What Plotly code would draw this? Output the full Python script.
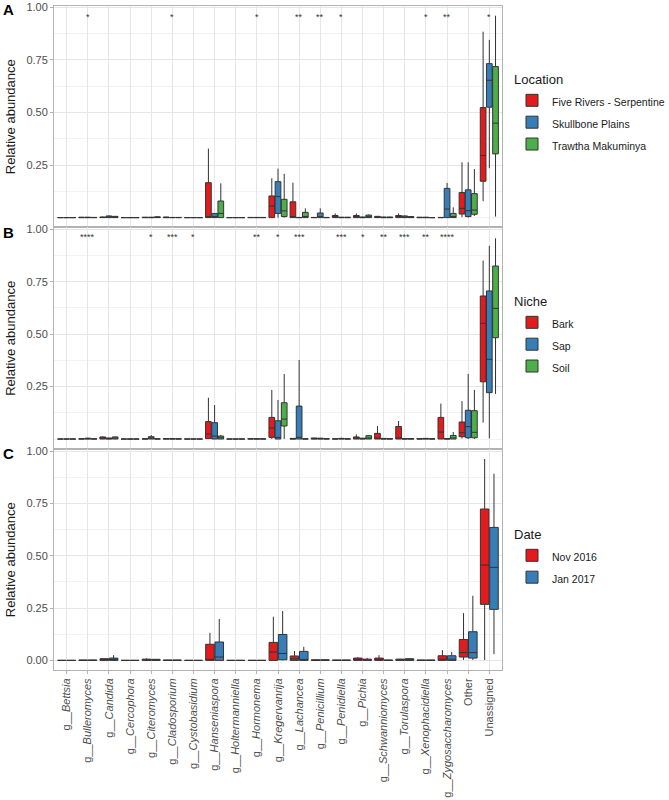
import plotly.graph_objects as go

categories = ["g__Bettsia", "g__Bulleromyces", "g__Candida", "g__Cercophora", "g__Citeromyces",
              "g__Cladosporium", "g__Cystobasidium", "g__Hanseniaspora", "g__Holtermanniella",
              "g__Hormonema", "g__Kregervanrija", "g__Lachancea", "g__Penicillium", "g__Penidiella",
              "g__Pichia", "g__Schwanniomyces", "g__Torulaspora", "g__Xenophacidiella",
              "g__Zygosaccharomyces", "Other", "Unassigned"]
tick_labels = ["g__<i>Bettsia</i>", "g__<i>Bulleromyces</i>", "g__<i>Candida</i>", "g__<i>Cercophora</i>",
               "g__<i>Citeromyces</i>", "g__<i>Cladosporium</i>", "g__<i>Cystobasidium</i>",
               "g__<i>Hanseniaspora</i>", "g__<i>Holtermanniella</i>", "g__<i>Hormonema</i>",
               "g__<i>Kregervanrija</i>", "g__<i>Lachancea</i>", "g__<i>Penicillium</i>",
               "g__<i>Penidiella</i>", "g__<i>Pichia</i>", "g__<i>Schwanniomyces</i>",
               "g__<i>Torulaspora</i>", "g__<i>Xenophacidiella</i>", "g__<i>Zygosaccharomyces</i>",
               "Other", "Unassigned"]

# ---- Panel A: Location ----
A_five_q1  = [0,0,0,0,0,0,0,0,0,0,0,0,0,0,0,0,0,0,0,0.017,0.173]
A_five_med = [0,0,0.001,0,0,0,0,0.005,0,0,0.055,0.003,0,0.002,0.002,0.001,0.002,0,0,0.044,0.295]
A_five_q3  = [0,0.002,0.003,0,0.002,0.003,0,0.166,0,0.001,0.103,0.075,0.001,0.01,0.01,0.006,0.01,0.002,0.001,0.119,0.523]
A_five_lo  = [0,0,0,0,0,0,0,0,0,0,0,0,0,0,0,0,0,0,0,0.002,0.078]
A_five_hi  = [0,0.003,0.005,0,0.003,0.004,0,0.328,0,0.002,0.187,0.166,0.002,0.02,0.02,0.008,0.02,0.003,0.001,0.263,0.884]

A_skull_q1  = [0,0,0,0,0,0,0,0,0,0,0.02,0,0,0,0,0,0,0,0,0.005,0.525]
A_skull_med = [0,0,0.003,0,0,0,0,0.005,0,0,0.1,0,0.003,0,0,0,0.002,0,0.041,0.033,0.653]
A_skull_q3  = [0,0.002,0.008,0,0.002,0.001,0,0.02,0,0.001,0.171,0.001,0.022,0.002,0.003,0.003,0.008,0.002,0.139,0.132,0.732]
A_skull_lo  = [0,0,0,0,0,0,0,0,0,0,0,0,0,0,0,0,0,0,0,0,0.235]
A_skull_hi  = [0,0.003,0.01,0,0.002,0.001,0,0.022,0,0.001,0.233,0.001,0.044,0.003,0.005,0.004,0.01,0.002,0.165,0.263,0.845]

A_traw_q1  = [0,0,0,0,0,0,0,0,0,0,0.005,0,0,0,0,0,0,0,0,0.016,0.303]
A_traw_med = [0,0,0.002,0,0.001,0,0,0.02,0,0,0.032,0.005,0,0,0.004,0,0.001,0,0.005,0.036,0.449]
A_traw_q3  = [0,0.001,0.006,0,0.004,0.001,0,0.079,0,0.001,0.087,0.025,0.001,0.002,0.012,0.003,0.005,0,0.02,0.114,0.718]
A_traw_lo  = [0,0,0,0,0,0,0,0,0,0,0,0,0,0,0,0,0,0,0,0.008,0.005]
A_traw_hi  = [0,0.002,0.008,0,0.006,0.001,0,0.163,0,0.001,0.208,0.044,0.001,0.003,0.015,0.004,0.006,0,0.049,0.231,0.960]

# ---- Panel B: Niche ----
B_bark_q1  = [0,0,0,0,0,0,0,0.002,0,0,0.008,0,0,0,0,0,0,0,0,0.011,0.273]
B_bark_med = [0,0,0.003,0,0,0,0,0.024,0,0,0.052,0,0.001,0,0.002,0.002,0.003,0,0.033,0.03,0.552]
B_bark_q3  = [0,0.001,0.01,0,0.001,0.002,0,0.083,0,0.002,0.103,0.003,0.005,0.001,0.01,0.027,0.06,0.002,0.103,0.081,0.682]
B_bark_lo  = [0,0,0,0,0,0,0,0,0,0,0,0,0,0,0,0,0,0,0,0.002,0.078]
B_bark_hi  = [0,0.002,0.012,0,0.002,0.003,0,0.197,0,0.003,0.234,0.004,0.006,0.002,0.022,0.062,0.086,0.003,0.169,0.181,0.851]

B_sap_q1  = [0,0,0,0,0,0,0,0,0,0,0,0,0,0,0,0,0,0,0,0.006,0.221]
B_sap_med = [0,0.001,0.001,0,0.003,0,0,0.014,0,0,0.008,0.008,0.001,0.001,0.001,0,0,0.001,0,0.059,0.38]
B_sap_q3  = [0,0.004,0.005,0,0.011,0.002,0,0.078,0,0.001,0.087,0.157,0.004,0.003,0.004,0.003,0.002,0.003,0.002,0.137,0.706]
B_sap_lo  = [0,0,0,0,0,0,0,0,0,0,0,0,0,0,0,0,0,0,0,0,0.003]
B_sap_hi  = [0,0.006,0.006,0,0.019,0.003,0,0.162,0,0.002,0.186,0.377,0.005,0.006,0.005,0.004,0.003,0.004,0.002,0.31,0.921]

B_soil_q1  = [0,0,0,0,0,0,0,0,0,0,0.062,0,0,0,0,0,0,0,0,0.006,0.483]
B_soil_med = [0,0,0.004,0,0,0,0,0.006,0,0,0.095,0,0,0,0.005,0,0,0,0.005,0.032,0.623]
B_soil_q3  = [0,0.001,0.01,0,0.001,0.001,0,0.014,0,0.001,0.173,0.001,0.002,0.001,0.016,0.002,0.002,0.001,0.017,0.135,0.825]
B_soil_lo  = [0,0,0,0,0,0,0,0,0,0,0,0,0,0,0,0,0,0,0,0,0.215]
B_soil_hi  = [0,0.001,0.012,0,0.001,0.001,0,0.02,0,0.001,0.31,0.002,0.002,0.001,0.018,0.003,0.002,0.001,0.033,0.234,0.957]

# ---- Panel C: Date ----
C_nov_q1  = [0,0,0,0,0,0,0,0,0,0,0,0,0,0,0,0,0,0,0,0.016,0.268]
C_nov_med = [0,0,0.002,0,0.002,0,0,0.002,0,0,0.04,0.008,0,0,0.004,0.002,0.002,0,0.006,0.037,0.456]
C_nov_q3  = [0,0.002,0.008,0,0.006,0.002,0,0.077,0,0,0.086,0.021,0.003,0.002,0.011,0.011,0.006,0.002,0.022,0.1,0.724]
C_nov_lo  = [0,0,0,0,0,0,0,0,0,0,0,0,0,0,0,0,0,0,0,0.002,0.002]
C_nov_hi  = [0,0.002,0.009,0,0.01,0.002,0,0.132,0,0,0.209,0.045,0.004,0.002,0.016,0.025,0.008,0.002,0.049,0.226,0.963]

C_jan_q1  = [0,0,0,0,0,0,0,0,0,0,0.003,0,0,0,0,0,0,0,0,0.011,0.244]
C_jan_med = [0,0,0.004,0,0.001,0,0,0.016,0,0,0.033,0.003,0.001,0,0.002,0,0.003,0,0.006,0.037,0.445]
C_jan_q3  = [0,0.002,0.011,0,0.005,0.002,0,0.088,0,0,0.124,0.043,0.003,0.002,0.006,0.002,0.008,0.002,0.022,0.137,0.636]
C_jan_lo  = [0,0,0,0,0,0,0,0,0,0,0,0,0,0,0,0,0,0,0,0.002,0.03]
C_jan_hi  = [0,0.002,0.025,0,0.007,0.002,0,0.198,0,0,0.236,0.065,0.004,0.002,0.012,0.003,0.01,0.002,0.04,0.309,0.893]

sig_A = ["", "*", "", "", "", "*", "", "", "", "*", "", "**", "**", "*", "", "", "", "*", "**", "", "*"]
sig_B = ["", "****", "", "", "*", "***", "*", "", "", "**", "*", "***", "", "***", "*", "**", "***", "**", "****", "", ""]

RED, BLUE, GREEN = "#E41A1C", "#377EB8", "#4DAF4A"
FONT = "Liberation Sans, Arial, sans-serif"

fig = go.Figure()

panels = [
    ("x", "y", "legend", [("Five Rivers - Serpentine", RED, A_five_q1, A_five_med, A_five_q3, A_five_lo, A_five_hi),
                          ("Skullbone Plains", BLUE, A_skull_q1, A_skull_med, A_skull_q3, A_skull_lo, A_skull_hi),
                          ("Trawtha Makuminya", GREEN, A_traw_q1, A_traw_med, A_traw_q3, A_traw_lo, A_traw_hi)]),
    ("x2", "y2", "legend2", [("Bark", RED, B_bark_q1, B_bark_med, B_bark_q3, B_bark_lo, B_bark_hi),
                             ("Sap", BLUE, B_sap_q1, B_sap_med, B_sap_q3, B_sap_lo, B_sap_hi),
                             ("Soil", GREEN, B_soil_q1, B_soil_med, B_soil_q3, B_soil_lo, B_soil_hi)]),
    ("x3", "y3", "legend3", [("Nov 2016", RED, C_nov_q1, C_nov_med, C_nov_q3, C_nov_lo, C_nov_hi),
                             ("Jan 2017", BLUE, C_jan_q1, C_jan_med, C_jan_q3, C_jan_lo, C_jan_hi)]),
]

for xa, ya, lg, groups in panels:
    for gi, (name, col, q1, med, q3, lo, hi) in enumerate(groups):
        fig.add_trace(go.Box(
            x=categories, q1=q1, median=med, q3=q3, lowerfence=lo, upperfence=hi,
            name='<span style="font-size:10.5px">%s</span>' % name,
            fillcolor=col, line=dict(color="#333333", width=1),
            whiskerwidth=0, boxpoints=False, xaxis=xa, yaxis=ya, legend=lg,
            alignmentgroup="panel_" + xa, offsetgroup="g%d" % gi,
            hoverinfo="skip",
        ))

W, H = 669, 800
x0, x1 = 54 / W, 502 / W
doms = [(1 - 227.3 / H, 1 - 6 / H), (1 - 449.3 / H, 1 - 227.3 / H), (1 - 670 / H, 1 - 449.3 / H)]
yranges = [[-0.046, 1.006], [-0.049, 1.0095], [-0.046, 1.0096]]

grid_major = "#E6E6E6"
grid_minor = "#F2F2F2"
border = "#B3B3B3"

layout = dict(
    width=W, height=H, margin=dict(l=0, r=0, t=0, b=0, autoexpand=False),
    paper_bgcolor="white", plot_bgcolor="white",
    boxmode="group", boxgap=0.12, boxgroupgap=0.08,
    font=dict(family=FONT, size=11, color="#1A1A1A"),
)
for i in range(3):
    sfx = "" if i == 0 else str(i + 1)
    show_x = (i == 2)
    layout["xaxis" + sfx] = dict(
        domain=[x0, x1], anchor="y" + sfx, type="category",
        categoryorder="array", categoryarray=categories,
        range=[-0.6, 20.6], showgrid=True, gridcolor=grid_major, gridwidth=1,
        showline=True, mirror=True, linecolor=border, linewidth=1,
        tickmode="array", tickvals=categories, ticktext=tick_labels,
        showticklabels=show_x, ticks="outside" if show_x else "", ticklen=3, tickcolor=border,
        tickangle=-90, tickfont=dict(family=FONT, size=11, color="#4D4D4D"),
        zeroline=False, automargin=False,
    )
    if i < 2:
        yt, ytt = [0.25, 0.5, 0.75, 1.0], ["0.25", "0.50", "0.75", "1.00"]
        minor_vals = [0, 0.125, 0.375, 0.625, 0.875]
    else:
        yt, ytt = [0, 0.25, 0.5, 0.75, 1.0], ["0.00", "0.25", "0.50", "0.75", "1.00"]
        minor_vals = [0.125, 0.375, 0.625, 0.875]
    layout["yaxis" + sfx] = dict(
        domain=list(doms[i]), anchor="x" + sfx, range=yranges[i],
        tickmode="array", tickvals=yt, ticktext=ytt,
        showgrid=True, gridcolor=grid_major, gridwidth=1,
        minor=dict(tickvals=minor_vals, showgrid=True, gridcolor=grid_minor, gridwidth=0.6, ticks=""),
        showline=True, mirror=True, linecolor=border, linewidth=1,
        ticks="outside", ticklen=3, tickcolor=border,
        tickfont=dict(family=FONT, size=11, color="#4D4D4D"), zeroline=False, automargin=False,
    )

legend_titles = ["Location", "Niche", "Date"]
legend_y = [1 - 114 / H, 1 - 336 / H, 1 - 558 / H]
for i in range(3):
    key = "legend" if i == 0 else "legend" + str(i + 1)
    layout[key] = dict(
        x=512 / W, xanchor="left", y=legend_y[i], yanchor="middle",
        title=dict(text=legend_titles[i], font=dict(family=FONT, size=13, color="#1A1A1A")),
        font=dict(family=FONT, size=14.5, color="#1A1A1A"),
        bgcolor="rgba(0,0,0,0)", itemwidth=30, tracegroupgap=4,
    )

fig.update_layout(**layout)

# y-axis titles and panel labels
panel_centres = [(6 + 227.3) / 2, (227.3 + 449.3) / 2, (449.3 + 670) / 2]
for i, lab in enumerate(["A", "B", "C"]):
    fig.add_annotation(text="Relative abundance", xref="paper", yref="paper",
                       x=1 / W, y=1 - panel_centres[i] / H, textangle=-90, showarrow=False,
                       font=dict(family=FONT, size=13, color="#1A1A1A"),
                       xanchor="left", yanchor="middle")
    fig.add_annotation(text="<b>%s</b>" % lab, xref="paper", yref="paper",
                       x=1 / W, y=1 - [10, 232, 453][i] / H, showarrow=False,
                       font=dict(family=FONT, size=15, color="#000000"),
                       xanchor="left", yanchor="middle")

# significance stars
for sig, xa, ya, yv in [(sig_A, "x", "y", 0.955), (sig_B, "x2", "y2", 0.962)]:
    for cat, s in zip(categories, sig):
        if s:
            fig.add_annotation(text=s, x=cat, y=yv, xref=xa, yref=ya, showarrow=False,
                               font=dict(family=FONT, size=9, color="#333333"),
                               xanchor="center", yanchor="middle")

fig.write_html("out.html", config={"displayModeBar": False},
               post_script="document.body.style.margin='0';document.body.style.padding='0';")
